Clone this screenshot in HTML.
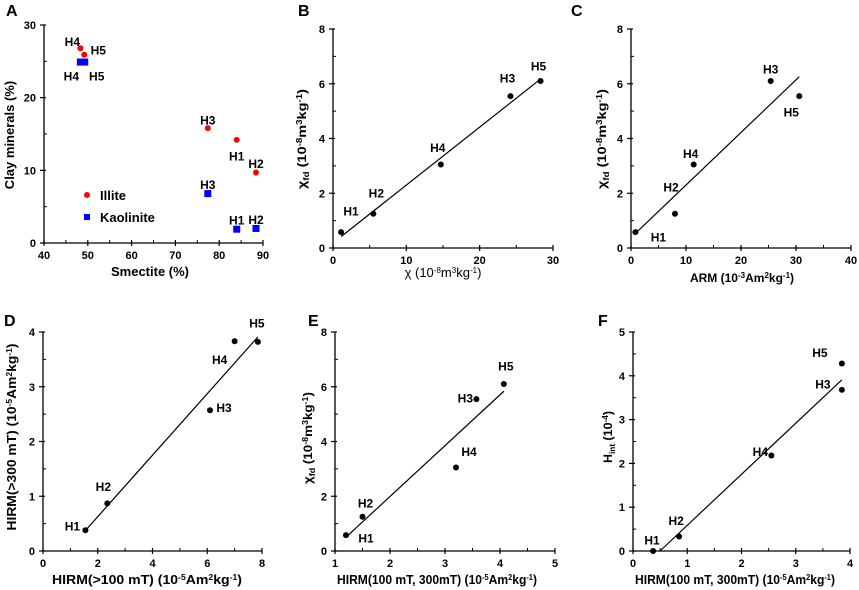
<!DOCTYPE html>
<html><head><meta charset="utf-8"><style>
body{margin:0;background:#fff}
svg{display:block;font-family:"Liberation Sans",Arial,sans-serif}
</style></head><body>
<svg id="fig" width="859" height="590" viewBox="0 0 859 590" xmlns="http://www.w3.org/2000/svg"></svg>
<script>
// ---- data ----
const labels = ["H1","H2","H3","H4","H5"];
const aIlliteX = [84, 88.4, 77.4, 48.3, 49.2];
const aIlliteY = [14.2, 9.7, 15.8, 26.8, 25.9];
const aKaolX = [84, 88.4, 77.4, 48.3, 49.3];
const aKaolY = [1.9, 2.0, 6.8, 24.9, 24.9];
const bX = [1.1, 5.5, 24.2, 14.7, 28.3];
const bY = [0.58, 1.25, 5.55, 3.05, 6.1];
const cX = [0.8, 8.0, 25.4, 11.4, 30.6];
const cY = [0.58, 1.25, 6.1, 3.05, 5.55];
const dX = [1.55, 2.35, 6.1, 7.0, 7.85];
const dY = [0.38, 0.87, 2.57, 3.83, 3.82];
const eX = [1.2, 1.5, 3.57, 3.2, 4.07];
const eY = [0.58, 1.25, 5.55, 3.05, 6.1];
const fX = [0.37, 0.85, 3.85, 2.55, 3.85];
const fY = [0.0, 0.33, 3.68, 2.18, 4.28];
const aXTicks = [40,50,60,70,80,90];
const aYTicks = [0,10,20,30];
const bXTicks = [0,10,20,30];
const bYTicks = [0,2,4,6,8];
const cXTicks = [0,10,20,30,40];
const dXTicks = [0,2,4,6,8];
const dYTicks = [0,1,2,3,4];
const eXTicks = [1,2,3,4,5];
const fXTicks = [0,1,2,3,4];
const fYTicks = [0,1,2,3,4,5];

const NS="http://www.w3.org/2000/svg";
const svg=document.getElementById('fig');
function mk(tag,attrs,parent,txt){
  const e=document.createElementNS(NS,tag);
  for(const k in attrs)e.setAttribute(k,attrs[k]);
  if(txt!==undefined)e.textContent=txt;
  (parent||svg).appendChild(e);return e;
}
function scale(d0,d1,p0,p1){return v=>p0+(v-d0)/(d1-d0)*(p1-p0);}

function panel(o){
  const g=mk('g',{});
  
  
  const sx=scale(o.xd[0],o.xd[1],o.xp[0],o.xp[1]);
  const sy=scale(o.yd[0],o.yd[1],o.yp[0],o.yp[1]);
  const ax=mk('line',{x1:o.xp[0],y1:o.yp[0],x2:o.xp[1],y2:o.yp[0],stroke:'#000','stroke-width':1.3},g);
  
  const ay=mk('line',{x1:o.xp[0],y1:o.yp[0],x2:o.xp[0],y2:o.yp[1],stroke:'#000','stroke-width':1.3},g);
  
  o.xt.forEach(v=>{
    const x=sx(v);
    mk('line',{x1:x,y1:o.yp[0]-3,x2:x,y2:o.yp[0]+3,stroke:'#000','stroke-width':1.2},g);
    const t=mk('text',{x:x,y:o.yp[0]+16,'text-anchor':'middle','font-size':11,'font-weight':'bold'},g,String(v));
    
  });
  if(o.xm){for(let v=o.xt[0]+o.xm;v<o.xt[o.xt.length-1];v+=o.xm*2){const x=sx(v);mk('line',{x1:x,y1:o.yp[0]-3,x2:x,y2:o.yp[0],stroke:'#000','stroke-width':1},g);}}
  o.yt.forEach(v=>{
    const y=sy(v);
    mk('line',{x1:o.xp[0]-4,y1:y,x2:o.xp[0]+2,y2:y,stroke:'#000','stroke-width':1.2},g);
    const t=mk('text',{x:o.xp[0]-8,y:y+4,'text-anchor':'end','font-size':11,'font-weight':'bold'},g,String(v));
    
  });
  if(o.ym){for(let v=o.yt[0]+o.ym;v<o.yt[o.yt.length-1];v+=o.ym*2){const y=sy(v);mk('line',{x1:o.xp[0],y1:y,x2:o.xp[0]+3,y2:y,stroke:'#000','stroke-width':1},g);}}
  const L=mk('text',{x:o.letter[0],y:o.letter[1],'font-size':16,'font-weight':'bold'},g,o.id);
  
  const xa={x:o.xtitle[0],y:o.xtitle[1],'text-anchor':'middle','font-size':o.xfs||12,'font-weight':o.xw||'bold'};
  if(o.xlen){xa.textLength=o.xlen;xa.lengthAdjust='spacingAndGlyphs';}
  const xt=mk('text',xa,g);
  xt.innerHTML=o.xtitle[2];
  
  const ya={x:0,y:0,transform:`translate(${o.ytitle[0]},${o.ytitle[1]}) rotate(-90)`,'text-anchor':'middle','font-size':o.yfs||12,'font-weight':'bold'};
  if(o.ylen){ya.textLength=o.ylen;ya.lengthAdjust='spacingAndGlyphs';}
  const yt=mk('text',ya,g);
  yt.innerHTML=o.ytitle[2];
  
  if(o.fit){
    const X=o.series[0].x,Y=o.series[0].y,n=X.length;
    const mx=X.reduce((a,b)=>a+b)/n,my=Y.reduce((a,b)=>a+b)/n;
    let sxy=0,sxx=0;for(let i=0;i<n;i++){sxy+=(X[i]-mx)*(Y[i]-my);sxx+=(X[i]-mx)**2;}
    const k=sxy/sxx,b=my-k*mx;
    let x0=Math.min(...X),x1=Math.max(...X);
    if(k*x0+b<o.yd[0]) x0=(o.yd[0]-b)/k;
    const ln=mk('line',{x1:sx(x0),y1:sy(k*x0+b),x2:sx(x1),y2:sy(k*x1+b),stroke:'#000','stroke-width':1.2},g);
    
  }
  o.series.forEach(s=>{
    s.x.forEach((xv,i)=>{
      const px=sx(xv),py=sy(s.y[i]);
      let m;
      if(s.shape==='square'){m=mk('rect',{x:px-3.5,y:py-3.5,width:7,height:7,fill:s.color},g);}
      else m=mk('circle',{cx:px,cy:py,r:s.r||3,fill:s.color},g);
      
      
      const off=s.off[i];
      const t=mk('text',{x:px+off[0],y:py+off[1]+4.5,'text-anchor':'middle','font-size':12,'font-weight':'bold'},g,labels[i]);
      
    });
  });
}
const sup=s=>`<tspan font-size="8" baseline-shift="4">${s}</tspan>`;
const sub=s=>`<tspan font-size="8" baseline-shift="-3">${s}</tspan>`;
const unit8=' (10'+sup('-8')+'m'+sup('3')+'kg'+sup('-1')+')';
const unit5=' (10'+sup('-5')+'Am'+sup('2')+'kg'+sup('-1')+')';

panel({id:'A',xd:[40,90],xp:[44,263],yd:[0,30],yp:[243,25],xt:aXTicks,yt:aYTicks,xm:5,ym:5,
  letter:[6,16],xtitle:[150,276,'Smectite (%)'],ytitle:[14,135,'Clay minerals (%)'],xfs:13,yfs:13,
  series:[{x:aIlliteX,y:aIlliteY,color:'#f00',off:[[0,16],[0,-9],[0,-8],[-8,-7],[14,-5]]},
          {x:aKaolX,y:aKaolY,color:'#00f',shape:'square',off:[[0,-9],[0,-9],[0,-9],[-9,14],[12,14]]}]});
panel({id:'B',xd:[0,30],xp:[333,553],yd:[0,8],yp:[248,29],xt:bXTicks,yt:bYTicks,xm:5,ym:1,
  letter:[298,16],xtitle:[443,277,'χ'+unit8],xw:'normal',xfs:13,ytitle:[306,139,'χ'+sub('fd')+unit8],ylen:100,
  fit:true,series:[{x:bX,y:bY,color:'#000',off:[[10,-21],[3,-21],[-3,-18],[-3,-17],[-2,-15]]}]});
panel({id:'C',xd:[0,40],xp:[631,851],yd:[0,8],yp:[248,29],xt:cXTicks,yt:bYTicks,xm:5,ym:1,
  letter:[571,16],xtitle:[742,282,'ARM (10'+sup('-3')+'Am'+sup('2')+'kg'+sup('-1')+')'],ytitle:[606,139,'χ'+sub('fd')+unit8],ylen:100,
  fit:true,series:[{x:cX,y:cY,color:'#000',off:[[23,5],[-4,-27],[0,-12],[-3,-11],[-8,16]]}]});
panel({id:'D',xd:[0,8],xp:[43,262],yd:[0,4],yp:[551,332],xt:dXTicks,yt:dYTicks,xm:1,ym:0.5,
  letter:[4,326],xtitle:[147,584,'HIRM(&gt;100 mT)'+unit5],xlen:190,xfs:13,ytitle:[16,437,'HIRM(&gt;300 mT)'+unit5],ylen:187,yfs:13,
  fit:true,series:[{x:dX,y:dY,color:'#000',off:[[-13,-4],[-4,-17],[14,-3],[-15,18],[-1,-19]]}]});
panel({id:'E',xd:[1,5],xp:[335,555],yd:[0,8],yp:[551,332],xt:eXTicks,yt:bYTicks,xm:0.5,ym:1,
  letter:[308,326],xtitle:[437,584,'HIRM(100 mT, 300mT)'+unit5],xlen:200,xfs:13,ytitle:[312,438,'χ'+sub('fd')+unit8],ylen:92,
  fit:true,series:[{x:eX,y:eY,color:'#000',off:[[20,3],[3,-14],[-11,-1],[13,-16],[2,-18]]}]});
panel({id:'F',xd:[0,4],xp:[633,850],yd:[0,5],yp:[551,332],xt:fXTicks,yt:fYTicks,xm:0.5,ym:0.5,
  letter:[598,326],xtitle:[735,584,'HIRM(100 mT, 300mT)'+unit5],xlen:200,xfs:13,ytitle:[612,437,'H'+sub('int')+' (10'+sup('-4')+')'],ylen:52,
  fit:true,series:[{x:fX,y:fY,color:'#000',off:[[-1,-11],[-3,-16],[-19,-6],[-11,-4],[-22,-11]]}]});

const lg=mk('g',{});


mk('circle',{cx:87,cy:195,r:3,fill:'#f00'},lg);
const l1=mk('text',{x:100,y:200,'font-size':13,'font-weight':'bold'},lg,'Illite');

mk('rect',{x:84,y:214,width:6,height:6,fill:'#00f'},lg);
const l2=mk('text',{x:100,y:222,'font-size':13,'font-weight':'bold'},lg,'Kaolinite');

</script>
</body></html>
